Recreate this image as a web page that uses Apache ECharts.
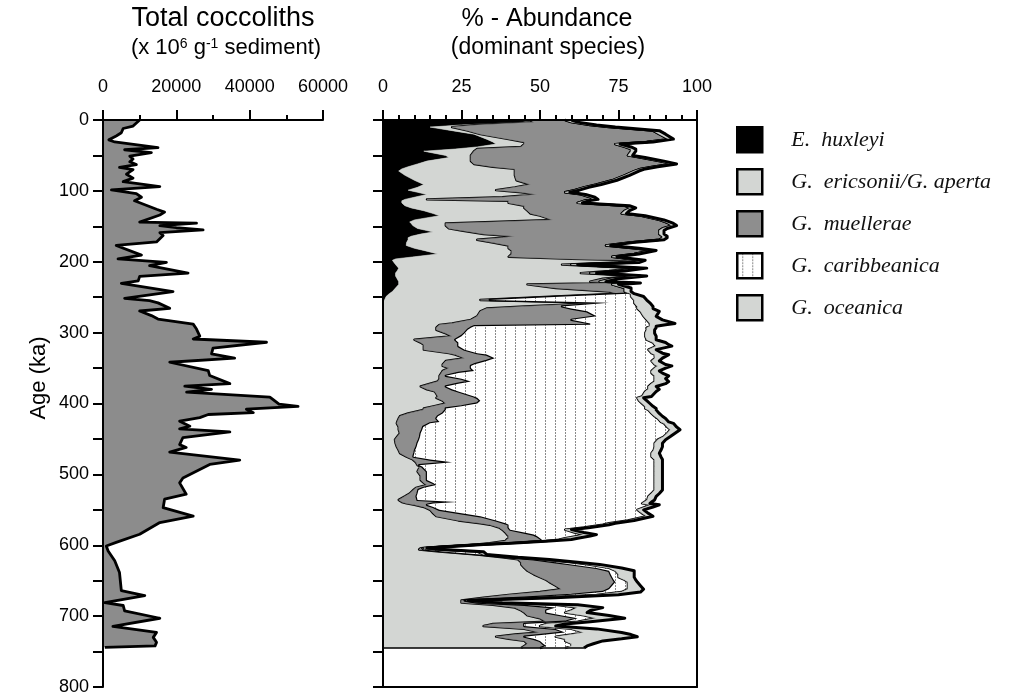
<!DOCTYPE html>
<html><head><meta charset="utf-8">
<script src="https://cdn.jsdelivr.net/npm/echarts@6/dist/echarts.min.js"></script>
<style>html,body{margin:0;padding:0;background:#fff}#c{width:1014px;height:696px}</style>
</head><body><div id="c"></div>
<script>
// ---------- Total coccoliths (x 10^6 g-1 sediment) vs age (ka) ----------
const cocAge = [0,8.5,12,18,22.5,28,31,39,42,46,51,55,59,63,67,70,76.5,82,87,94,98.6,104,109,114,126,130,134,144,145.5,149,152,155,159,163,172,177,190.6,196,201,205.6,216,220.7,227,230.5,242,251.6,255,258,265.7,269.5,276,280.8,288,295,305,309,313.6,322,330,336,341.8,353.5,360.6,372,375.6,380,384,391,395,401,404,408,413,415.5,420,425,432,435.7,440,448,458,462,468.5,480,486,505,512,528,535,547,559,568,584.5,596,601,608,622,638.5,664,671,681,685,692.5,703,714.5,723,730,737,742,744];
const cocTotal = [10000,8200,5500,5000,3600,1600,3200,15000,5900,13200,7300,8200,7300,9100,4500,8200,6400,8200,5500,15500,2300,9100,10500,8600,14600,16800,15500,10000,25500,15500,20000,27300,15500,16400,14600,3600,10500,4100,17300,12700,23200,10000,9600,5000,19100,5900,12700,15000,18200,10000,13200,15000,24600,25500,26400,24600,44600,30000,29600,35900,18200,28700,29100,34600,22300,29600,22800,45500,46500,48000,53200,39100,41000,28700,26400,20900,23700,20900,34600,21800,20900,22700,18200,37300,29100,21800,20900,22700,16800,16400,24600,15500,10000,3600,900,1400,3200,4500,5000,11400,500,5500,5900,15500,2700,14600,13700,14600,14200,500];

// ---------- % abundance of dominant species vs age (ka) ----------
const abAge = [
  0,3,7,10,15,20,27,31,34,38,
  41,44,50,53,58,62,66,69,72,78,
  85,91,95,99,102,105,109,112,114,117,
  121,124,128,132,135,141,144,146,149,153,
  156,158,161,164,166,169,173,177,181,184,
  189,193,196,198,201,204,209,213,216,220,
  224,228,230,232,237,242,245,249,254,258,
  263,266,270,277,282,287,289,291,293,296,
  301,305,310,314,317,319,324,329,331,336,
  340,345,347,350,354,357,361,365,369,372,
  376,380,383,390,392,396,400,404,407,409,
  414,418,421,426,428,433,437,442,447,451,
  456,461,466,470,475,479,483,487,489,496,
  502,508,512,515,519,522,527,531,536,539,
  541,543,546,550,555,559,565,569,571,575,
  578,582,585,587,590,592,594,597,599,602,
  604,606,609,613,617,620,624,627,632,636,
  641,645,649,652,657,662,666,670,674,678,
  681,684,688,692,695,699,703,708,711,714,
  718,723,726,729,732,735,739,742,745];
const huxleyi = [
  44,46,25,15,22,29,33,35,36,30,
  23,13,20,21,14,11,8,6,5,7,
  10,13,11,8,11,14,10,7,6,6,
  7,9,13,16,18,10,8.5,9,9.5,11,
  14,16,12,9,8,8,7.5,7.4,10,13,
  17.5,10,4,3,3.5,4,5,4.5,4,4,
  4.5,5,5,5,4,3,2,1,0.5,0,
  0,0,0,0,0,0,0,0,0,0,
  0,0,0,0,0,0,0,0,0,0,
  0,0,0,0,0,0,0,0,0,0,
  0,0,0,0,0,0,0,0,0,0,
  0,0,0,0,0,0,0,0,0,0,
  0,0,0,0,0,0,0,0,0,0,
  0,0,0,0,0,0,0,0,0,0,
  0,0,0,0,0,0,0,0,0,0,
  0,0,0,0,0,0,0,0,0,0,
  0,0,0,0,0,0,0,0,0,0,
  0,0,0,0,0,0,0,0,0,0,
  0,0,0,0,0,0,0,0,0,0,
  0,0,0,0,0,0,0,0,0];
const ericsonii = [
  3,2,5,7,5,2,7,10,9,14,
  7,16,8,7,14,18,27,36,37,35,
  32.5,34,31,28,33,35,28,7,34,34,
  38,36,33,31,32,44,26.5,11,10.5,10,
  11,12,20,33,30,22,27.5,32.6,30,28,
  23.5,30,56,77,71.5,53,75,67.5,59,76,
  65.5,61,70,41,51,69,73,54,30.5,70,
  45,33,31,30,28,22,18,17.5,17,17,
  20,22,10,12,13,13,13,21,23,26,
  20,19,19,21,19,18.6,18,18,17.5,15,
  12,14,16.5,17.5,17,19,20,16,13,12.8,
  8,5.4,5,4.5,4.4,5,5,5.4,4.5,3.8,
  4,4.4,5,5.4,7.5,9.5,10.5,11,11.8,11,
  12,12,13,14,10.5,9.7,8.5,7,5,6,
  7.5,10,13,15,16,17,24,31,34,37,
  38,39,39.5,40,40,39.4,39,34,30,18,
  12,11.5,18,30,38,43,44,44,45,46,
  48,50,52,53,55,56.8,50,40,32,25,
  25,35,42,44,45,46,50,52,35,32,
  45,50,42,36,40,45,46,45,44];
const muellerae = [
  11,12,36,50,59,57,51,39,29,33,
  49,50,50,54,60,63,51,40,38,35,
  30.5,21,22,25,14,14,28,53,24,22,
  32,34,31,29,32,34,55,71,72,68,
  63,60,56,47,51,58,43,31,40,44.5,
  39,33,18,2,5,3,2,3,3,2,
  3,3,5,27,22,5,3,3,3,2,
  12,27,34,38,32,44,48,11.5,11,10,
  6,3,13,12,11,11,13,9,10,9.6,
  13,10,9,7,10,5.4,2,7,10.5,9,
  8,8,7.5,11.5,13,12,10,9,7,7.2,
  11,12.1,12,13.5,10.6,7.8,7.5,6.6,7.3,7.7,
  7,6.3,5.2,4.6,2.2,5.5,11.5,0.5,0.7,3,
  2,2,3,3,2.5,1.6,2.5,3.7,6,17.5,
  8.5,4,3,3,9,14,12,8,6,3,
  2.5,6,8.5,9,10,11.1,12,6,1,1,
  0.5,1.5,2,1,2,5,11,16,23,26,
  24.5,23,21.5,21,18,15.2,20,20,13,1,
  5,10,13,8,7,11,12,6,10,13,
  10,8,10,9,8,5,5,7,6];
const caribbeanica = [
  0,0,0,0,0,0,0,0,0,0,
  0,0,0,0,0,0,0,0,0,0,
  0,0,0,0,0,0,0,0,0,0,
  0,0,0,0,0,0,0,0,0,0,
  0,0,0,0,0,0,0,0,0,0,
  0,0,0,0,0,0,0,0,0,0,
  0,0,0,0,0,0,1,21,46,8,
  24,21,17,15,24,19,19,56,56,57,
  57.5,58.5,61,62,62.5,63,58.5,55.5,53.5,51,
  52.5,57.5,59.5,58.5,56.5,61.5,66.5,61.5,58.5,61.5,
  64.5,62.5,59.5,53.5,51,50.5,52.5,58.5,63.5,64.5,
  66.5,69,70.5,70.5,74.5,77.7,79,78.5,77.5,76,
  75.5,75.8,76,75.5,75.8,71.5,64.5,75,74,72.5,
  72.5,72.5,70.5,69.5,73.5,75.2,74.5,73.8,73.2,59.7,
  66.5,71.5,67.5,63,57.5,53,42,33,30,24,
  17.5,16,16,13,8,5.5,1,1,0.5,0.5,
  0.5,4,10,1,1,2,5,5,4,2,
  2.5,2,3.5,4,5,6,6,8,5,0.5,
  3,10,7,8,6,7,6,4,7,5,
  5,6,8,10,10,8,9,8,8];
const oceanica = [
  2,2,2,2,2,2,1.5,2,1.5,2,
  1.5,1.5,1.5,1.5,1.5,1.5,1.5,1.5,1.5,1.5,
  1.5,1.5,1.5,1.5,1.5,1.5,1.5,1.5,1.5,1.5,
  1.5,1.5,1.5,1.5,1.5,1.5,1.5,1.5,1.5,1.5,
  1.5,1.5,1.5,1.5,1.5,1.5,1.5,1.5,1.5,1.5,
  1.5,1.5,2,1.5,1.5,2,2,2,2,2,
  2,2,2,2,2,2,1,4,4,5,
  5,5,6,4,5,8,5,2,3,2.5,
  3,3.5,3,4,4.5,5,2.5,3.5,4.5,2.4,
  2.5,3.5,4.5,3.5,2.5,3.5,4.5,3.5,4.5,4.5,
  2.5,3.5,3.5,3,2,2.5,2.5,2.5,3.5,2.5,
  2.5,2.5,2.5,2.5,3,3,3.1,2.5,2.1,2.5,
  2.5,2.5,2.3,2.5,3,2.5,2.5,2.5,2.5,2.5,
  2.5,2.5,2.5,2.5,2.5,2.5,2.5,2.5,2.3,2.3,
  2.5,2.5,2.5,2,2,2,2,2,2,2,
  2,3,4,4,4,4,1,1,0.5,1.5,
  1,2,2,1,2,3,2,4,4,6,
  5,5,3.5,3,4,5,6,7,5,0.5,
  5,7,8,6,7,8,9,4,6,5,
  8,12,19,26,18,12,7,5,6];

const speciesNames = ['E.  huxleyi', 'G.  ericsonii/G. aperta', 'G.  muellerae', 'G.  caribbeanica', 'G.  oceanica'];
const speciesValues = [huxleyi, ericsonii, muellerae, caribbeanica, oceanica];

// ---------- styles ----------
const LIGHT = '#d3d6d3', DARK = '#8e8e8e', BLACK = '#000';
const pc = document.createElement('canvas'); pc.width = 10; pc.height = 3;
const pctx = pc.getContext('2d');
pctx.fillStyle = '#fff'; pctx.fillRect(0, 0, 10, 3);
pctx.fillStyle = '#8a8a8a'; pctx.fillRect(5, 0, 1, 2);
const HATCH = { image: pc, repeat: 'repeat' };
const fills = [BLACK, LIGHT, DARK, HATCH, LIGHT];

// stacked rows: [age, lower, upper]
const n = Math.min(abAge.length, huxleyi.length, ericsonii.length, muellerae.length, caribbeanica.length, oceanica.length);
const cum = new Array(n).fill(0);
const stackData = speciesValues.map(function (arr) {
  const rows = [];
  for (let i = 0; i < n; i++) {
    const lo = cum[i];
    cum[i] = lo + arr[i];
    rows.push([abAge[i], lo, cum[i]]);
  }
  return rows;
});

function stackRender(k) {
  return function (params, api) {
    if (params.dataIndexInside !== 0) return;
    const m = params.dataInsideLength;
    const up = [], lo = [];
    for (let i = 0; i < m; i++) {
      const age = api.value(0, i);
      lo.push(api.coord([api.value(1, i), age]));
      up.push(api.coord([api.value(2, i), age]));
    }
    const fill = fills[k];
    const children = [{
      type: 'polygon', shape: { points: up.concat(lo.slice().reverse()) },
      style: { fill: fill, stroke: fill === HATCH ? null : fill, lineWidth: 0.6 }
    }];
    if (k > 0) {
      children.push({ type: 'polyline', shape: { points: up },
        style: { fill: null, stroke: '#000', lineWidth: k === 4 ? 3 : 2.4, lineJoin: 'round' } });
    }
    if (k === speciesValues.length - 1) {
      children.push({ type: 'line', shape: { x1: api.coord([0, api.value(0, m - 1)])[0], y1: up[m - 1][1], x2: up[m - 1][0], y2: up[m - 1][1] },
        style: { stroke: '#000', lineWidth: 1.5 } });
    }
    return { type: 'group', children: children };
  };
}

function cocRender(params, api) {
  if (params.dataIndexInside !== 0) return;
  const m = params.dataInsideLength;
  const curve = [];
  for (let i = 0; i < m; i++) curve.push(api.coord([api.value(1, i), api.value(0, i)]));
  const first = api.coord([0, api.value(0, 0)]);
  const last = api.coord([0, api.value(0, m - 1)]);
  return { type: 'group', children: [
    { type: 'polygon', shape: { points: [first].concat(curve, [last]) }, style: { fill: '#8c8c8c', stroke: null } },
    { type: 'polyline', shape: { points: curve }, style: { fill: null, stroke: '#000', lineWidth: 2.8, lineJoin: 'round' } }
  ] };
}

const FONT = 'Liberation Sans, Arial, sans-serif';
const axisLineStyle = { color: '#000', width: 2 };
function topX(grid, max, interval, minorSplit) {
  return {
    gridIndex: grid, type: 'value', position: 'top', min: 0, max: max, interval: interval,
    axisLine: { show: true, onZero: false, lineStyle: axisLineStyle },
    axisTick: { show: true, length: 10, lineStyle: axisLineStyle },
    minorTick: { show: true, splitNumber: minorSplit, length: 5, lineStyle: axisLineStyle },
    axisLabel: { margin: 24, fontSize: 18, color: '#000', fontFamily: FONT,
      formatter: function (v) { return String(v); } },
    splitLine: { show: false }, minorSplitLine: { show: false }, z: 10
  };
}
function leftY(grid, showLabels) {
  return {
    gridIndex: grid, type: 'value', inverse: true, min: 0, max: 800, interval: 50,
    axisLine: { show: true, onZero: false, lineStyle: axisLineStyle },
    axisTick: { show: true, length: 10, lineStyle: axisLineStyle },
    axisLabel: { show: showLabels, margin: 14, fontSize: 18, color: '#000', fontFamily: FONT,
      formatter: function (v) { return v % 100 === 0 ? String(v) : ''; } },
    splitLine: { show: false }, z: 10
  };
}

const series = [{
  name: 'Total coccoliths', type: 'custom', xAxisIndex: 0, yAxisIndex: 0,
  data: cocAge.map(function (a, i) { return [a, cocTotal[i]]; }),
  encode: { x: 1, y: 0 }, renderItem: cocRender, silent: true, z: 2
}];
speciesNames.forEach(function (nm, k) {
  series.push({
    name: nm, type: 'custom', xAxisIndex: 1, yAxisIndex: 1,
    data: stackData[k], encode: { x: [1, 2], y: 0 },
    itemStyle: { color: fills[k] }, renderItem: stackRender(k), silent: true, z: 2 + k
  });
});

const option = {
  animation: false,
  backgroundColor: '#fff',
  grid: [
    { left: 103, top: 120, width: 220, height: 567 },
    { left: 383, top: 120, width: 314, height: 567 }
  ],
  xAxis: [
    topX(0, 60000, 20000, 2),
    topX(1, 100, 25, 5),
    { gridIndex: 1, type: 'value', position: 'bottom', min: 0, max: 100,
      axisLine: { show: true, onZero: false, lineStyle: axisLineStyle }, axisTick: { show: false },
      axisLabel: { show: false }, splitLine: { show: false }, z: 10 }
  ],
  yAxis: [
    leftY(0, true),
    leftY(1, false),
    { gridIndex: 1, type: 'value', position: 'right', inverse: true, min: 0, max: 800,
      axisLine: { show: true, onZero: false, lineStyle: axisLineStyle }, axisTick: { show: false },
      axisLabel: { show: false }, splitLine: { show: false }, z: 10 }
  ],
  legend: {
    orient: 'vertical', left: 731, top: 121, itemWidth: 25, itemHeight: 25, itemGap: 14.5,
    icon: 'rect', selectedMode: false,
    itemStyle: { borderColor: '#000', borderWidth: 2.5 },
    textStyle: { fontFamily: 'Liberation Serif, Times New Roman, serif', fontStyle: 'italic', fontSize: 22, color: '#111', padding: [0, 0, 0, 24] },
    data: speciesNames.map(function (nm, k) { return { name: nm, itemStyle: { color: fills[k] } }; })
  },
  graphic: [
    { type: 'text', x: 223, y: 19, style: { text: 'Total coccoliths', fontSize: 27, fontFamily: FONT, fill: '#000', align: 'center', verticalAlign: 'middle' } },
    { type: 'text', x: 226, y: 48, style: { text: '(x 10{sup|6} g{sup|-1} sediment)', fontSize: 22, fontFamily: FONT, fill: '#000', align: 'center', verticalAlign: 'middle',
      rich: { sup: { fontSize: 14, fontFamily: FONT, verticalAlign: 'top', padding: [0, 0, 8, 0] } } } },
    { type: 'text', x: 547, y: 19, style: { text: '% - Abundance', fontSize: 25, fontFamily: FONT, fill: '#000', align: 'center', verticalAlign: 'middle' } },
    { type: 'text', x: 548, y: 48, style: { text: '(dominant species)', fontSize: 23, fontFamily: FONT, fill: '#000', align: 'center', verticalAlign: 'middle' } },
    { type: 'text', x: 39, y: 378, rotation: Math.PI / 2, style: { text: 'Age (ka)', fontSize: 22, fontFamily: FONT, fill: '#000', align: 'center', verticalAlign: 'middle' } }
  ],
  series: series
};
const chart = echarts.init(document.getElementById('c'));
chart.setOption(option);
</script>
</body></html>
